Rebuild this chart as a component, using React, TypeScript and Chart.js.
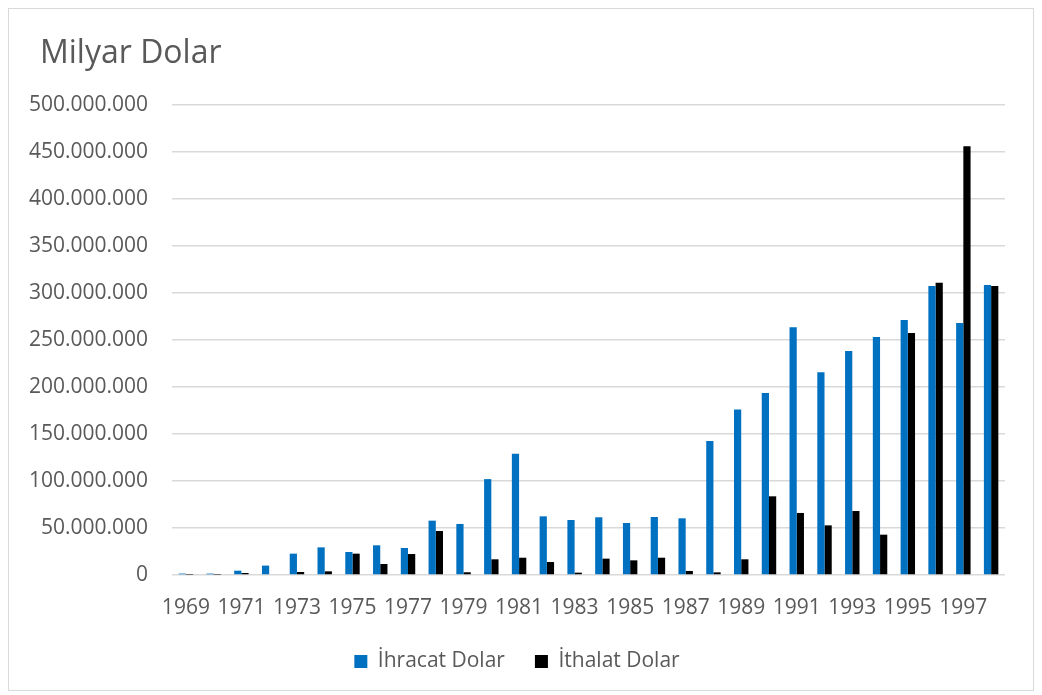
import React, { useEffect, useRef } from "react";
import { Chart, registerables } from "chart.js";

Chart.register(...registerables);

const titleText = "Milyar Dolar";

const years: string[] = [
  "1969","1970","1971","1972","1973","1974","1975","1976","1977","1978",
  "1979","1980","1981","1982","1983","1984","1985","1986","1987","1988",
  "1989","1990","1991","1992","1993","1994","1995","1996","1997","1998",
];

// values in millions, scaled below
const ihracatM: number[] = [
  1.5, 1.5, 4.6, 10, 22.7, 29.4, 24.5, 31.6, 28.7, 57.8,
  54.3, 102, 129, 62.4, 58.5, 61.4, 55.3, 61.7, 60.3, 142.5,
  176, 193.6, 263.5, 215.6, 238.3, 253.2, 271.3, 307.4, 268, 308.5,
];
const ithalatM: number[] = [
  0.3, 0.3, 2.1, 0.8, 3.2, 3.9, 22.7, 11.7, 22.3, 46.8,
  2.9, 16.7, 18.4, 13.8, 2.5, 17.4, 15.6, 18.4, 4.3, 2.8,
  16.7, 83.7, 66, 52.8, 68.1, 42.9, 257.4, 311, 456, 307.4,
];

const ihracat = ihracatM.map((v) => v * 1e6);
const ithalat = ithalatM.map((v) => v * 1e6);

const fontFam = "'Open Sans', 'Noto Sans', sans-serif";
const textColor = "#595959";

function fmt(v: number): string {
  return Math.round(v).toString().replace(/\B(?=(\d{3})+(?!\d))/g, ".");
}

export default function App() {
  const ref = useRef<HTMLCanvasElement | null>(null);
  useEffect(() => {
    if (!ref.current) return;
    const chart = new Chart(ref.current, {
      type: "bar",
      data: {
        labels: years,
        datasets: [
          {
            label: "İhracat Dolar",
            data: ihracat,
            backgroundColor: "#0070C0",
            borderWidth: 0,
            barPercentage: 1,
            categoryPercentage: 0.52,
          },
          {
            label: "İthalat Dolar",
            data: ithalat,
            backgroundColor: "#000000",
            borderWidth: 0,
            barPercentage: 1,
            categoryPercentage: 0.52,
          },
        ],
      },
      options: {
        animation: false,
        responsive: false,
        maintainAspectRatio: false,
        layout: { padding: { left: 20, right: 28, top: 96, bottom: 8 } },
        plugins: {
          title: { display: false },
          legend: {
            position: "bottom",
            labels: {
              color: textColor,
              font: { family: fontFam, size: 21 },
              boxWidth: 13,
              boxHeight: 13,
              padding: 30,
            },
          },
          tooltip: { enabled: false },
        },
        scales: {
          x: {
            grid: { display: false, drawTicks: false },
            border: { display: false },
            afterFit: (scale: any) => {
              scale.height = 46;
            },
            ticks: {
              color: textColor,
              font: { family: fontFam, size: 21 },
              autoSkip: false,
              maxRotation: 0,
              minRotation: 0,
              padding: 20,
              callback: function (_v: any, i: number) {
                return i % 2 === 0 ? years[i] : "";
              },
            },
          },
          y: {
            min: 0,
            max: 500000000,
            grid: { color: "#d9d9d9", lineWidth: 1.5, drawTicks: false },
            border: { display: false },
            afterFit: (scale: any) => {
              scale.width = 143;
            },
            ticks: {
              stepSize: 50000000,
              color: textColor,
              font: { family: fontFam, size: 21 },
              padding: 24,
              callback: (v: any) => fmt(Number(v)),
            },
          },
        },
      },
    });
    return () => chart.destroy();
  }, []);
  return (
    <div
      style={{
        position: "relative",
        width: 1026,
        height: 683,
        border: "1px solid #d9d9d9",
        boxSizing: "border-box",
      }}
    >
      <canvas ref={ref} width={1024} height={681} style={{ display: "block" }} />
      <div
        style={{
          position: "absolute",
          left: 31,
          top: 23,
          fontFamily: fontFam,
          fontSize: 32,
          lineHeight: "38.4px",
          color: textColor,
          whiteSpace: "nowrap",
        }}
      >
        {titleText}
      </div>
    </div>
  );
}
